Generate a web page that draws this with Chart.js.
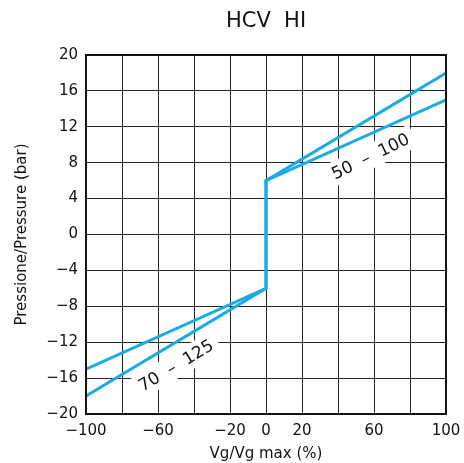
<!DOCTYPE html>
<html>
<head>
<meta charset="utf-8">
<script src="https://cdn.jsdelivr.net/npm/chart.js@4.4.0/dist/chart.umd.min.js"></script>
<style>
html,body{margin:0;padding:0;background:#fff;}
#wrap{width:464px;height:463px;position:relative;}
</style>
</head>
<body>
<div id="wrap"><canvas id="c" width="464" height="463"></canvas></div>
<script>
// ---- data ----
const chartTitle = 'HCV  HI';
const xPoints = [-100, 0, 0, 100];
const curve50_100 = [-18, -6, 6, 18];
const curve70_125 = [-15, -6, 6, 15];
const xTickLabels = [-100, -60, -20, 0, 20, 60, 100];
const yTicks = [-20, -16, -12, -8, -4, 0, 4, 8, 12, 16, 20];
const curveLabels = ['50  \u2013  100', '70  \u2013  125'];
const curveLabelX = [58, -50];
const curveLabelY = [8.7, -14.6];
const curveLabelAngle = [-26, -31];

const BLUE = '#1AABE6';
const FONT = 'DejaVu Sans';

function fmt(v){ return v < 0 ? '\u2212' + Math.abs(v) : String(v); }

const labelPlugin = {
  id: 'curveLabels',
  beforeDatasetsDraw(chart){
    const {ctx, scales:{x, y}} = chart;
    ctx.save();
    ctx.font = '17px "' + FONT + '"';
    ctx.textAlign = 'center';
    ctx.textBaseline = 'middle';
    curveLabels.forEach((t, i) => {
      const px = x.getPixelForValue(curveLabelX[i]);
      const py = y.getPixelForValue(curveLabelY[i]);
      ctx.save();
      ctx.translate(px, py);
      ctx.rotate(curveLabelAngle[i] * Math.PI / 180);
      const w = ctx.measureText(t).width;
      ctx.fillStyle = '#fff';
      ctx.fillRect(-w/2 - 6, -12, w + 12, 24);
      ctx.fillStyle = '#111';
      ctx.fillText(t, 0, 1);
      ctx.restore();
    });
    ctx.restore();
  },
  afterDraw(chart){
    const {ctx, chartArea} = chart;
    ctx.save();
    ctx.font = '21px "' + FONT + '"';
    ctx.fillStyle = '#111';
    ctx.textAlign = 'center';
    ctx.textBaseline = 'middle';
    ctx.fillText(chartTitle, (chartArea.left + chartArea.right) / 2, 22);
    ctx.strokeStyle = '#111';
    ctx.lineWidth = 2;
    ctx.strokeRect(chartArea.left, chartArea.top, chartArea.right - chartArea.left, chartArea.bottom - chartArea.top);
    ctx.restore();
  }
};

new Chart(document.getElementById('c'), {
  type: 'scatter',
  data: {
    datasets: [
      { data: xPoints.map((x, i) => ({x, y: curve50_100[i]})), showLine: true, borderColor: BLUE, borderWidth: 3, pointRadius: 0, tension: 0 },
      { data: xPoints.map((x, i) => ({x, y: curve70_125[i]})), showLine: true, borderColor: BLUE, borderWidth: 3, pointRadius: 0, tension: 0 }
    ]
  },
  options: {
    responsive: false,
    animation: false,
    layout: { padding: { top: 55, right: 18, left: 0, bottom: 0 } },
    plugins: { legend: { display: false }, tooltip: { enabled: false }, title: { display: false } },
    scales: {
      x: {
        type: 'linear', min: -100, max: 100,
        afterBuildTicks(s){ s.ticks = [-100,-80,-60,-40,-20,0,20,40,60,80,100].map(v => ({value: v})); },
        afterFit(s){ s.height = 49; s.paddingLeft = 0; s.paddingRight = 0; },
        grid: { color: '#222', lineWidth: 1, drawTicks: false },
        border: { display: false },
        ticks: {
          autoSkip: false, maxRotation: 0, padding: 8, color: '#111',
          font: { family: FONT, size: 15 },
          callback: v => xTickLabels.includes(v) ? fmt(v) : ''
        },
        title: { display: true, text: 'Vg/Vg max (%)', color: '#111', font: { family: FONT, size: 15 }, padding: { top: 0, bottom: 0 } }
      },
      y: {
        type: 'linear', min: -20, max: 20,
        afterBuildTicks(s){ s.ticks = yTicks.map(v => ({value: v})); },
        afterFit(s){ s.width = 86; s.paddingTop = 0; s.paddingBottom = 0; },
        grid: { color: '#222', lineWidth: 1, drawTicks: false },
        border: { display: false },
        ticks: { padding: 8, color: '#111', font: { family: FONT, size: 15 }, callback: v => fmt(v) },
        title: { display: true, text: 'Pressione/Pressure (bar)', color: '#111', font: { family: FONT, size: 15 }, padding: { top: 13, bottom: 0 } }
      }
    }
  },
  plugins: [labelPlugin]
});
</script>
</body>
</html>
